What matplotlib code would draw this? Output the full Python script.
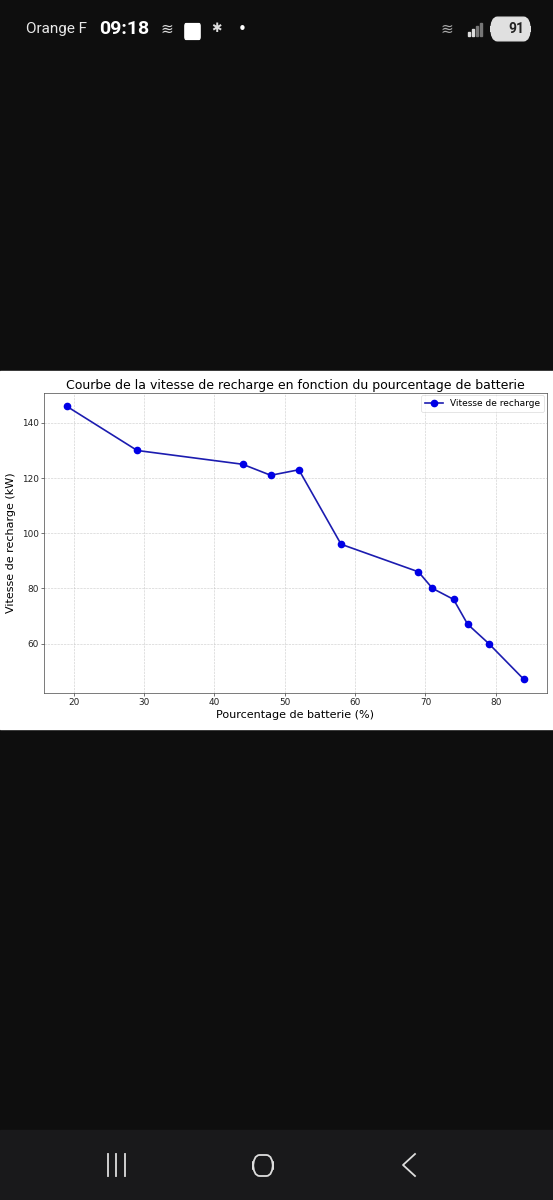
import matplotlib
matplotlib.use("Agg")
import matplotlib.pyplot as plt
from matplotlib.patches import Rectangle, FancyBboxPatch

pourcentage = [19, 29, 44, 48, 52, 58, 69, 71, 74, 76, 79, 84]
vitesse = [146, 130, 125, 121, 123, 96, 86, 80, 76, 67, 60, 47]
x_ticks = [20, 30, 40, 50, 60, 70, 80]
y_ticks = [60, 80, 100, 120, 140]

s = 0.553  # facteur d'echelle de la capture
W, H = 553, 1200

fig = plt.figure(figsize=(W / 100, H / 100), dpi=100, facecolor='#0e0e0e')

def fx(px):
    return px / W

def fy(py):
    return 1 - py / H

# zone blanche du graphique
fig.patches.append(Rectangle((0, fy(729)), 1, (729 - 371) / H,
                             transform=fig.transFigure, color='white', zorder=-5))
# barre de navigation
fig.patches.append(Rectangle((0, 0), 1, (H - 1130) / H,
                             transform=fig.transFigure, color='#19191b', zorder=-5))

ax = fig.add_axes([44 / W, fy(693), (546.7 - 44) / W, (693 - 392.7) / H])
ax.set_zorder(2)
ax.plot(pourcentage, vitesse, marker='o', color='#1c1cb0', markerfacecolor='#0000e6',
        markeredgecolor='#0000e6', linewidth=1.2, markersize=4.5, label='Vitesse de recharge')
ax.set_xticks(x_ticks)
ax.set_yticks(y_ticks)
ax.set_title('Courbe de la vitesse de recharge en fonction du pourcentage de batterie',
             fontsize=9, pad=3)
ax.set_xlabel('Pourcentage de batterie (%)', fontsize=8, labelpad=1.5)
ax.set_ylabel('Vitesse de recharge (kW)', fontsize=8, labelpad=4)
ax.tick_params(labelsize=6.4, length=3.5 * s, width=0.8 * s, pad=2, colors='#222222')
for sp in ax.spines.values():
    sp.set_linewidth(0.9 * s)
    sp.set_color('#444444')
ax.grid(True, linestyle='--', alpha=0.6, linewidth=0.8 * s)
leg = ax.legend(fontsize=6.5, loc='upper right', borderpad=0.4, handlelength=2.0,
                borderaxespad=0.3)
leg.get_frame().set_linewidth(0.8 * s)

# barre d'etat
fig.text(fx(26), fy(29), 'Orange F', color='#e8e8e8', fontsize=11, va='center',
         family='Roboto')
fig.text(fx(99), fy(29), '09:18', color='white', fontsize=14, va='center',
         family='Roboto', weight='bold')
fig.text(fx(160), fy(29), '≋', color='#dddddd', fontsize=11, va='center')
fig.patches.append(FancyBboxPatch((fx(186), fy(37)), fx(13), 11 / H,
                                  boxstyle='round,pad=0.002', transform=fig.transFigure,
                                  color='white'))
fig.text(fx(211), fy(29), '✱', color='#dddddd', fontsize=9, va='center')
fig.text(fx(238), fy(29), '•', color='white', fontsize=11, va='center')
# signal
for i, h in enumerate([4, 7, 10, 13]):
    c = '#dddddd' if i < 2 else '#777777'
    fig.patches.append(Rectangle((fx(468 + i * 4), fy(36)), fx(2), h / H,
                                 transform=fig.transFigure, color=c))
fig.text(fx(440), fy(29), '≋', color='#aaaaaa', fontsize=11, va='center')
fig.patches.append(FancyBboxPatch((fx(493), fy(36)), fx(35), 14 / H,
                                  boxstyle='round,pad=0.004,rounding_size=0.012',
                                  transform=fig.transFigure, color='#e0e0e0'))
fig.text(fx(516), fy(29), '91', color='#222222', fontsize=10, va='center', ha='center',
         family='Roboto', weight='bold')

# icones de navigation
for xx in [108, 116, 125]:
    fig.add_artist(plt.Line2D([fx(xx), fx(xx)], [fy(1154), fy(1176)], color='#dddddd',
                              linewidth=1.3, transform=fig.transFigure))
fig.patches.append(FancyBboxPatch((fx(253), fy(1176)), fx(20), 21 / H,
                                  boxstyle='round,pad=0,rounding_size=0.012',
                                  transform=fig.transFigure, fill=False,
                                  edgecolor='#dddddd', linewidth=1.3))
fig.add_artist(plt.Line2D([fx(415), fx(403), fx(415)], [fy(1154), fy(1165), fy(1176)],
                          color='#dddddd', linewidth=1.3, transform=fig.transFigure))

fig.savefig('out.png', dpi=100, facecolor=fig.get_facecolor())
